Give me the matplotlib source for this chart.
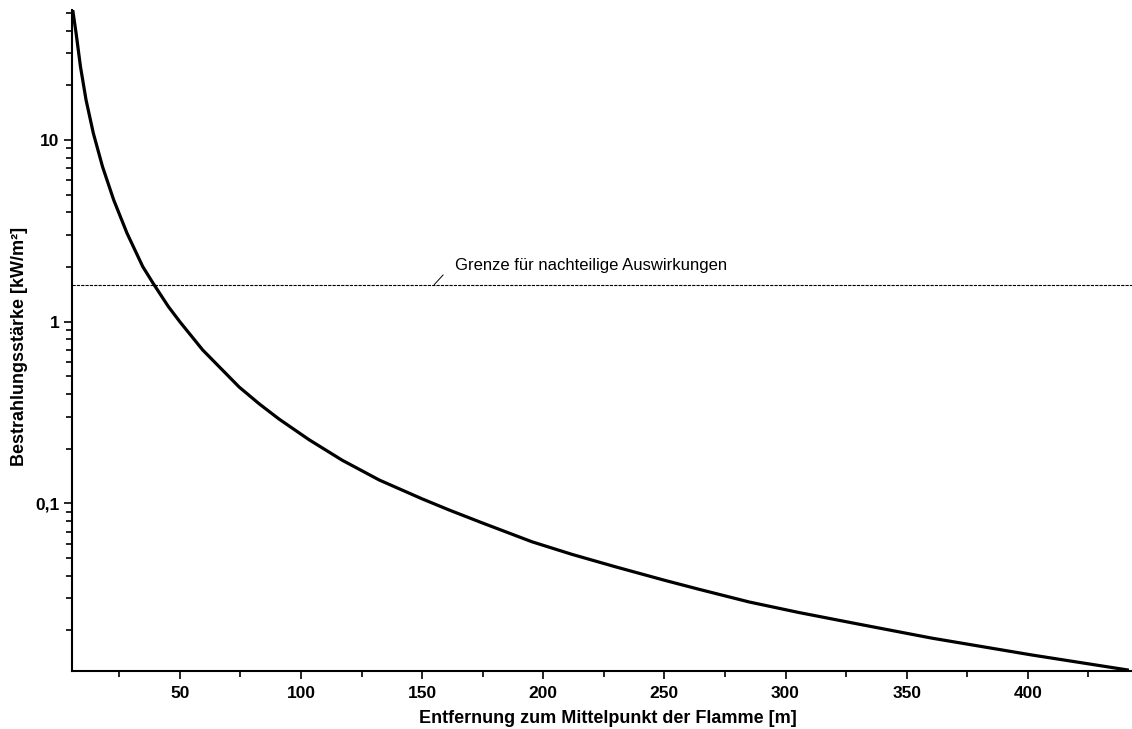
import numpy as np
import matplotlib
matplotlib.use("Agg")
import matplotlib.pyplot as plt
from matplotlib.ticker import MultipleLocator, LogLocator, FuncFormatter, NullFormatter

plt.rcParams['font.family'] = ['Liberation Sans', 'DejaVu Sans']

# Curve: distance [m] vs irradiance [kW/m2]
distance = [5.8, 7.2, 9.0, 11.3, 14.3, 18.1, 22.7, 28.2, 34.7, 39.2, 45.3,
            50.0, 59.4, 74.5, 82.8, 91.0, 103.4, 117.0, 132.3, 150.0, 161.2,
            175.0, 195.4, 212.0, 230.1, 250.0, 264.3, 285.0, 305.6, 330.0,
            360.4, 401.7, 441.7]
irradiance = [51.9, 38.6, 25.3, 16.6, 10.9, 7.13, 4.68, 3.07, 2.01, 1.61,
              1.21, 1.0, 0.70, 0.437, 0.353, 0.291, 0.224, 0.173, 0.1346,
              0.106, 0.092, 0.078, 0.0615, 0.0524, 0.0447, 0.0378, 0.0337,
              0.0287, 0.0251, 0.0217, 0.01815, 0.01466, 0.0121]

limit_value = 1.6
limit_label = "Grenze für nachteilige Auswirkungen"

fig = plt.figure(figsize=(11.32, 7.29), dpi=100)
ax = fig.add_axes([72 / 1132, 1 - 671 / 729, 1 - 72 / 1132, (671 - 10) / 729])

ax.plot(distance, irradiance, color='black', lw=2.3, solid_joinstyle='round',
        solid_capstyle='butt')
ax.axhline(limit_value, color='black', lw=0.8, linestyle=(0, (2.9, 1.0)))

ax.annotate('', xy=(155, limit_value), xytext=(158.7, 1.81),
            arrowprops=dict(arrowstyle='-', color='black', lw=0.7,
                            shrinkA=0, shrinkB=0))
ax.text(163.7, 1.93, limit_label, fontsize=12, va='baseline', ha='left')

ax.set_yscale('log')
ax.set_xlim(5.5, 443)
ax.set_ylim(0.01197, 51.9)

ax.xaxis.set_major_locator(MultipleLocator(50))
ax.xaxis.set_minor_locator(MultipleLocator(25))
ax.yaxis.set_major_locator(LogLocator(base=10))
ax.yaxis.set_minor_locator(LogLocator(base=10, subs=np.arange(2, 10)))
ax.yaxis.set_major_formatter(FuncFormatter(lambda v, p: f"{v:g}".replace('.', ',')))
ax.yaxis.set_minor_formatter(NullFormatter())

for s in ['top', 'right']:
    ax.spines[s].set_visible(False)
for s in ['left', 'bottom']:
    ax.spines[s].set_linewidth(1.5)

ax.tick_params(which='major', direction='out', length=6, width=1.2,
               labelsize=12.5, pad=3)
ax.tick_params(axis='x', which='major', pad=5)
ax.tick_params(which='minor', direction='out', length=4.3, width=1.2)
for lab in ax.get_xticklabels() + ax.get_yticklabels():
    lab.set_fontweight('bold')

ax.set_xlabel("Entfernung zum Mittelpunkt der Flamme [m]", fontsize=13,
              fontweight='bold')
ax.set_ylabel("Bestrahlungsstärke [kW/m²]", fontsize=13, fontweight='bold')
ax.xaxis.set_label_coords((607.5 - 72) / (1132 - 72), -(727 - 671) / 661, transform=ax.transAxes)
ax.xaxis.label.set_va('bottom')
ax.yaxis.set_label_coords(-(72 - 20) / 1060, (671 - 346.5) / 661, transform=ax.transAxes)
ax.yaxis.label.set_va('center')

fig.savefig("out.png", dpi=100)
